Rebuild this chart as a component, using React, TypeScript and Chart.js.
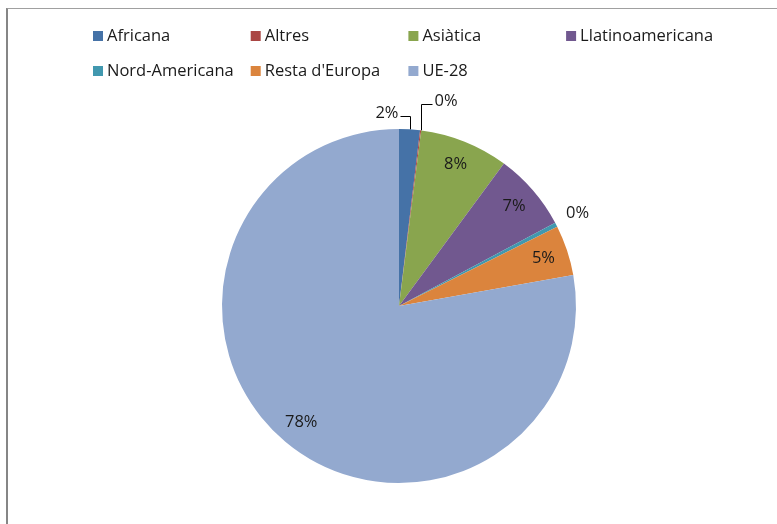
import React, { useEffect, useRef } from "react";
import { Chart, registerables } from "chart.js";

Chart.register(...registerables);

const categories = [
  "Africana",
  "Altres",
  "Asiàtica",
  "Llatinoamericana",
  "Nord-Americana",
  "Resta d'Europa",
  "UE-28",
];
const shares = [1.9, 0.1, 8.1, 7.1, 0.4, 4.6, 77.8];
const shareLabels = ["2%", "0%", "8%", "7%", "0%", "5%", "78%"];
const colors = ["#4572A7", "#AA4643", "#89A54E", "#71588F", "#4198AF", "#DB843D", "#93A9CF"];

const FONT = "'Open Sans', 'Noto Sans', sans-serif";

const legendPlugin = {
  id: "gridLegend",
  afterDraw(chart: any) {
    const ctx = chart.ctx;
    const opts = chart.options.plugins.gridLegend;
    const labels = chart.data.labels as string[];
    const bg = chart.data.datasets[0].backgroundColor as string[];
    ctx.save();
    ctx.font = `${opts.fontSize}px ${FONT}`;
    ctx.textBaseline = "middle";
    ctx.textAlign = "left";
    labels.forEach((lab, i) => {
      const col = i % opts.cols;
      const row = Math.floor(i / opts.cols);
      const x = opts.left + col * opts.colWidth;
      const y = opts.top + row * opts.rowHeight;
      ctx.fillStyle = bg[i];
      ctx.fillRect(x, y - opts.box / 2, opts.box, opts.box);
      ctx.fillStyle = "#1a1a1a";
      ctx.fillText(lab, x + opts.box + 4, y);
    });
    ctx.restore();
  },
};

const labelPlugin = {
  id: "sliceLabels",
  afterDatasetsDraw(chart: any) {
    const ctx = chart.ctx;
    const opts = chart.options.plugins.sliceLabels;
    const meta = chart.getDatasetMeta(0);
    const texts = opts.texts as string[];
    ctx.save();
    ctx.font = `${opts.fontSize}px ${FONT}`;
    ctx.fillStyle = "#1a1a1a";
    ctx.strokeStyle = "#000";
    ctx.lineWidth = 1;
    ctx.textBaseline = "middle";
    meta.data.forEach((arc: any, i: number) => {
      const p = arc.getProps(["x", "y", "startAngle", "endAngle", "outerRadius"], true);
      const a = (p.startAngle + p.endAngle) / 2;
      const R = p.outerRadius;
      const special = opts.outside[i];
      if (!special) {
        const k = opts.insideRatio;
        ctx.textAlign = "center";
        ctx.fillText(texts[i], p.x + Math.cos(a) * R * k, p.y + Math.sin(a) * R * k);
        return;
      }
      if (special.mode === "free") {
        const r = R + special.gap;
        ctx.textAlign = "center";
        ctx.fillText(texts[i], p.x + Math.cos(a) * r, p.y + Math.sin(a) * r);
        return;
      }
      // leader line
      const ex = Math.round(p.x + Math.cos(a) * R) + 0.5;
      const ey = p.y + Math.sin(a) * R;
      const ky = Math.round(ey - special.lift) + 0.5;
      ctx.beginPath();
      ctx.moveTo(ex, ey);
      ctx.lineTo(ex, ky);
      const hx = ex + special.side * special.arm;
      ctx.lineTo(hx, ky);
      ctx.stroke();
      ctx.textAlign = special.side < 0 ? "right" : "left";
      ctx.fillText(texts[i], hx + special.side * 2, ky - 3);
    });
    ctx.restore();
  },
};

export default function App() {
  const ref = useRef<HTMLCanvasElement>(null);
  useEffect(() => {
    if (!ref.current) return;
    const chart = new Chart(ref.current, {
      type: "pie",
      data: {
        labels: categories,
        datasets: [
          {
            data: shares,
            backgroundColor: colors,
            borderWidth: 0,
          },
        ],
      },
      plugins: [legendPlugin, labelPlugin],
      options: {
        animation: false,
        responsive: false,
        layout: { padding: { top: 129, bottom: 41, left: 21, right: 0 } },
        plugins: {
          legend: { display: false },
          tooltip: { enabled: false },
          gridLegend: {
            left: 93,
            top: 36,
            cols: 4,
            colWidth: 157.7,
            rowHeight: 35,
            box: 10,
            fontSize: 16.5,
          },
          sliceLabels: {
            texts: shareLabels,
            fontSize: 16.5,
            insideRatio: 0.86,
            outside: {
              0: { mode: "leader", lift: 13, side: -1, arm: 10 },
              1: { mode: "leader", lift: 26, side: 1, arm: 11 },
              4: { mode: "free", gap: 24 },
            },
          },
        } as any,
      },
    });
    return () => chart.destroy();
  }, []);
  return (
    <div style={{ position: "fixed", left: 0, top: 0, width: 777, height: 524, background: "#fff", overflow: "hidden" }}>
      <div
        style={{
          position: "absolute",
          left: 6,
          top: 8,
          width: 800,
          height: 600,
          borderLeft: "2px solid #868686",
          borderTop: "1px solid #a0a0a0",
        }}
      />
      <canvas ref={ref} width={777} height={524} style={{ position: "absolute", left: 0, top: 0 }} />
    </div>
  );
}
